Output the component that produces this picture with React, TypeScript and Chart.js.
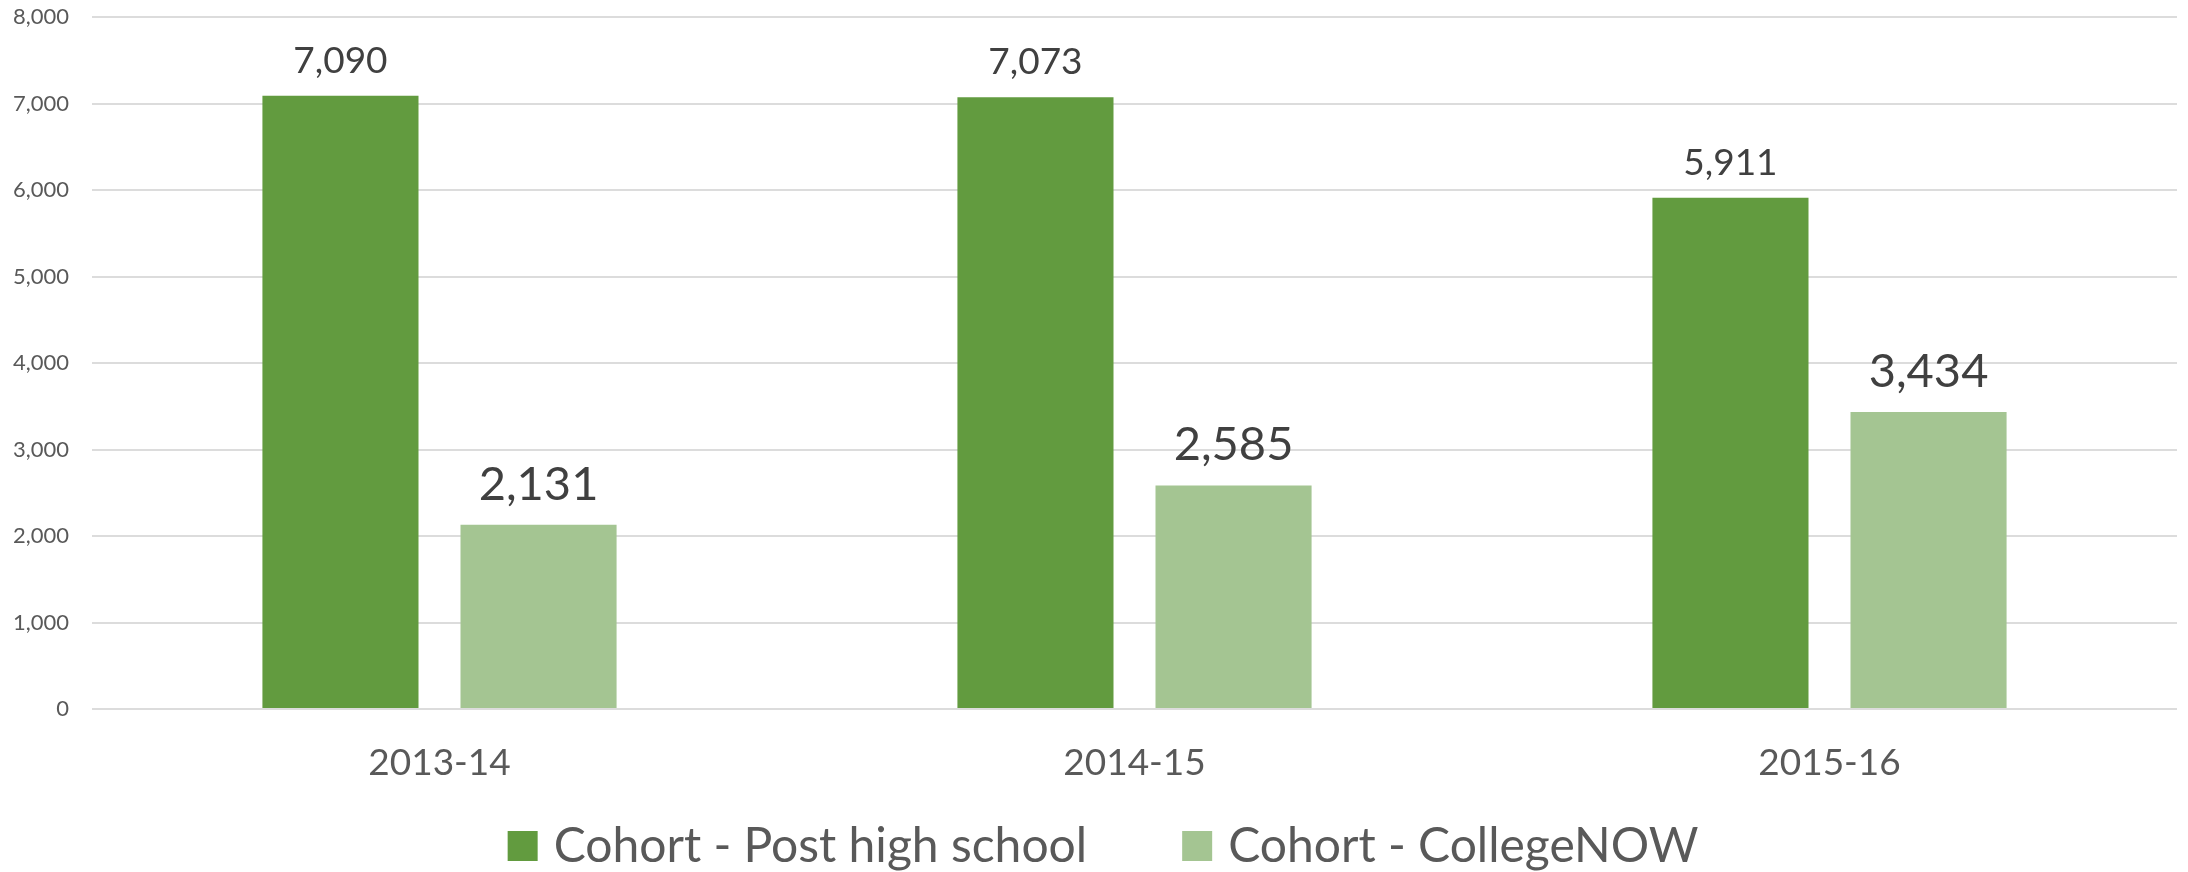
import React, { useEffect, useRef } from "react";
import { Chart, registerables } from "chart.js";

Chart.register(...registerables);

// Cohort sizes by school year
const years = ["2013-14", "2014-15", "2015-16"];
const postHighSchool = [7090, 7073, 5911];
const collegeNow = [2131, 2585, 3434];
const seriesNames = ["Cohort - Post high school", "Cohort - CollegeNOW"];
const yTicks = [0, 1000, 2000, 3000, 4000, 5000, 6000, 7000, 8000];

const DARK_GREEN = "#629B3F";
const LIGHT_GREEN = "#A4C592";
const AXIS_TEXT = "#595959";
const VALUE_TEXT = "#404040";
const FONT = "Lato, 'Liberation Sans', sans-serif";

const fmt = (v: number) => v.toLocaleString("en-US");

// Value labels above each bar; the second series uses a larger font
const valueLabels = {
  id: "valueLabels",
  afterDatasetsDraw(chart: any) {
    const ctx = chart.ctx;
    const sizes = [37, 47];
    const gaps = [23, 25];
    chart.data.datasets.forEach((ds: any, di: number) => {
      const meta = chart.getDatasetMeta(di);
      meta.data.forEach((bar: any, i: number) => {
        ctx.save();
        ctx.font = `${sizes[di]}px ${FONT}`;
        ctx.fillStyle = VALUE_TEXT;
        ctx.textAlign = "center";
        ctx.textBaseline = "alphabetic";
        ctx.fillText(fmt(ds.data[i]), bar.x, bar.y - gaps[di]);
        ctx.restore();
      });
    });
  },
};

// Legend row drawn below the category labels
const bottomLegend = {
  id: "bottomLegend",
  afterDraw(chart: any) {
    const ctx = chart.ctx;
    const box = 30;
    const textGap = 16;
    const itemGap = 95;
    const centerX = 1103;
    const centerY = 846;
    ctx.save();
    ctx.font = `48px ${FONT}`;
    const items = chart.data.datasets.map((ds: any) => ({
      label: ds.label as string,
      color: ds.backgroundColor as string,
      w: box + textGap + ctx.measureText(ds.label).width,
    }));
    const total =
      items.reduce((s: number, it: any) => s + it.w, 0) + itemGap * (items.length - 1);
    let x = centerX - total / 2;
    ctx.textBaseline = "middle";
    ctx.textAlign = "left";
    items.forEach((it: any) => {
      ctx.fillStyle = it.color;
      ctx.fillRect(x, centerY - box / 2, box, box);
      ctx.fillStyle = AXIS_TEXT;
      ctx.fillText(it.label, x + box + textGap, centerY + 1);
      x += it.w + itemGap;
    });
    ctx.restore();
  },
};

export default function App() {
  const canvasRef = useRef<HTMLCanvasElement | null>(null);

  useEffect(() => {
    document.body.style.margin = "0";
    document.body.style.overflow = "hidden";
    const canvas = canvasRef.current;
    if (!canvas) return;
    const chart = new Chart(canvas, {
      type: "bar",
      data: {
        labels: years,
        datasets: [
          {
            label: seriesNames[0],
            data: postHighSchool,
            backgroundColor: DARK_GREEN,
            categoryPercentage: 0.57,
            barPercentage: 0.788,
          },
          {
            label: seriesNames[1],
            data: collegeNow,
            backgroundColor: LIGHT_GREEN,
            categoryPercentage: 0.57,
            barPercentage: 0.788,
          },
        ],
      },
      options: {
        responsive: false,
        animation: false,
        layout: { padding: { top: 17, right: 11, bottom: 87, left: 0 } },
        plugins: {
          legend: { display: false },
          tooltip: { enabled: false },
          title: { display: false },
        },
        scales: {
          x: {
            grid: { display: false, drawTicks: false },
            border: { display: false },
            ticks: {
              color: AXIS_TEXT,
              font: { family: FONT, size: 37 },
              padding: 32,
            },
            afterFit(scale: any) {
              scale.height = 76;
            },
          },
          y: {
            min: 0,
            max: 8000,
            afterBuildTicks(scale: any) {
              scale.ticks = yTicks.map((v) => ({ value: v }));
            },
            grid: { color: "#dcdcdc", lineWidth: 2, drawTicks: false },
            border: { display: false },
            ticks: {
              color: AXIS_TEXT,
              font: { family: FONT, size: 22 },
              padding: 23,
              callback: (v: any) => fmt(Number(v)),
            },
            afterFit(scale: any) {
              scale.width = 92;
              scale.paddingTop = 0;
              scale.paddingBottom = 0;
            },
          },
        },
      },
      plugins: [valueLabels, bottomLegend],
    });
    return () => chart.destroy();
  }, []);

  return (
    <div style={{ position: "absolute", left: 0, top: 0, width: 2188, height: 872, background: "#fff" }}>
      <canvas ref={canvasRef} width={2188} height={872} style={{ display: "block" }} />
    </div>
  );
}
